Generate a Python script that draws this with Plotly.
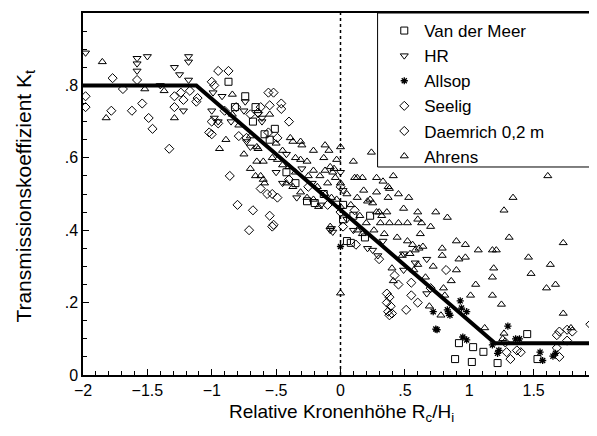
import plotly.graph_objects as go

# ---------------- data ----------------
vdm_x = [-0.87, -0.74, -0.82, -0.66, -0.59, -0.51, -0.42, -0.26, -0.20, -0.13, 0.02, 0.05,
         0.08, 0.19, 0.23, 0.92, 1.03, 1.11, 0.89, 1.02, 1.22, 1.45, 1.53,
         -0.55, -0.35, -0.68, 0.02, 0.10]
vdm_y = [0.81, 0.77, 0.74, 0.74, 0.665, 0.68, 0.56, 0.48, 0.475, 0.50, 0.43, 0.37,
         0.365, 0.38, 0.44, 0.088, 0.077, 0.064, 0.044, 0.036, 0.033, 0.113, 0.044,
         0.65, 0.53, 0.70, 0.47, 0.44]

hr_x = [-1.98, -1.58, -1.58, -1.58, -1.50, -1.29, -1.25, -1.18, -1.18, -1.18, -1.22, -0.99,
        -0.92, -0.74, -0.75, -1.00, -0.98, -0.95, -0.73, -0.64, -0.61, -0.61, -0.45, -0.34,
        -0.08, -0.07, -0.06, 0.00, 0.02, 0.21, 0.29, 0.25, 0.49, 0.67, 0.67, 0.49,
        -0.85, -0.70, -0.42, -0.30, -0.22, -0.15, 0.05, 0.10, 0.33, 0.58, -0.50, -1.40]
hr_y = [0.89, 0.875, 0.86, 0.84, 0.88, 0.85, 0.83, 0.88, 0.865, 0.815, 0.73, 0.78,
        0.77, 0.755, 0.73, 0.73, 0.71, 0.70, 0.645, 0.72, 0.71, 0.70, 0.53, 0.49,
        0.40, 0.405, 0.395, 0.56, 0.51, 0.35, 0.33, 0.345, 0.335, 0.32, 0.225, 0.29,
        0.70, 0.63, 0.61, 0.57, 0.53, 0.47, 0.43, 0.40, 0.37, 0.31, 0.56, 0.80]

allsop_x = [0.00, 0.72, 0.74, 0.75, 0.83, 0.84, 0.85, 0.93, 0.94, 0.98, 0.95, 0.98,
            1.18, 1.22, 1.23, 1.30, 1.36, 1.39, 1.55, 1.57, 1.65, 1.67]
allsop_y = [0.355, 0.175, 0.127, 0.125, 0.18, 0.17, 0.165, 0.205, 0.185, 0.175, 0.105, 0.097,
            0.083, 0.06, 0.068, 0.135, 0.10, 0.10, 0.063, 0.04, 0.052, 0.06]

seelig_x = [-0.86, -0.80, -0.68, -0.62, -0.57, -0.53, -0.49, -0.55, -0.53, -0.52, -0.71, -0.40,
            0.00, 0.00, 0.02, 0.11, 0.36, 0.38, 0.36, 0.39, 0.37, 0.40, 0.38, 0.42,
            0.55, 0.55, 0.51, 0.82, 1.28, 1.29, 1.32, 1.37, 1.40, 1.68, 1.70, 1.76,
            1.76, 1.80, 1.68, 1.70, 1.94,
            -0.25, -0.10, 0.12, 0.30, 0.45, 0.60, 0.70]
seelig_y = [0.55, 0.47, 0.455, 0.515, 0.50, 0.50, 0.49, 0.44, 0.41, 0.415, 0.40, 0.54,
            0.52, 0.45, 0.41, 0.455, 0.225, 0.215, 0.20, 0.19, 0.175, 0.17, 0.165, 0.275,
            0.255, 0.22, 0.18, 0.29, 0.09, 0.063, 0.044, 0.068, 0.063, 0.11, 0.12, 0.095,
            0.125, 0.12, 0.075, 0.05, 0.14,
            0.52, 0.47, 0.36, 0.32, 0.25, 0.20, 0.24]

daem_x = [-1.98, -1.98, -1.77, -1.69, -1.78, -1.58, -1.62, -1.54, -1.49, -1.46, -1.33, -1.29,
          -1.24, -1.22, -1.29, -1.17, -1.11, -1.12, -0.95, -0.87, -1.00, -0.98, -1.00, -0.95,
          -1.02, -1.00, -0.81, -0.79, -0.73, -0.62, -0.56, -0.52, -0.46, -0.46, -0.64, -0.55,
          -0.56, -0.49, -0.90, -0.70, -0.40]
daem_y = [0.77, 0.74, 0.82, 0.79, 0.73, 0.815, 0.73, 0.75, 0.71, 0.68, 0.625, 0.77,
          0.78, 0.76, 0.74, 0.785, 0.765, 0.755, 0.84, 0.84, 0.81, 0.80, 0.70, 0.695,
          0.67, 0.665, 0.74, 0.66, 0.655, 0.74, 0.78, 0.78, 0.75, 0.735, 0.725, 0.745,
          0.67, 0.655, 0.73, 0.72, 0.70]

ahr_x = [-1.85, -1.82, -1.52, -1.37, -1.29, -0.84, -0.84, -0.89, -0.94, -0.79, -0.66, -0.62,
         -0.59, -0.65, -0.65, -0.60, -0.55, -0.39, -0.37, -0.31, -0.30, -0.21, -0.12, -0.09,
         -0.13, 0.00, 0.10, 0.24, 0.13, 0.17, 0.28, 0.33, 0.37, 0.21, 0.25, -0.60,
         -0.64, -0.53, -0.49, -0.45, -0.40, -0.35, -0.31, -0.26, -0.21, -0.16, -0.12, -0.08,
         -0.06, -0.04, -0.42, -0.37, -0.31, -0.26, -0.21, -0.17, -0.12, -0.07, -0.03, 0.00,
         0.13, 0.23, 0.28, 0.32, 0.36, 0.15, 0.13, -0.08, 0.11, 0.41, 0.38, 0.37,
         0.28, 0.53, 0.49, 0.60, 0.74, 0.83, 0.52, 0.60, 0.63, 0.30, 0.31, 0.38,
         1.34, 1.27, 1.31, 0.90, 0.97, 1.07, 1.18, 1.21, 0.79, 0.79, 0.92, 0.97,
         1.19, 1.18, 1.18, 1.25, 1.01, 0.80, 0.81, 0.60, 0.44, 0.52, 0.56, 0.58,
         0.54, 0.61, 0.64, 0.41, 0.40, 0.17, 0.00, 0.78, 0.69, 1.12, 1.27, 1.26,
         1.61, 1.73, 1.46, 1.63, 1.48, 1.60, 1.67, 1.73, 1.79, -0.03, -0.05, 0.00,
         -0.70, -0.75, -0.70, -0.50, -0.45, -0.35, -0.25, -0.18, -0.10, 0.05, 0.08, 0.18,
         0.20, 0.26, 0.34, 0.45, 0.48, 0.57, 0.66, 0.72, 0.86, 1.05, 0.45, 0.62,
         0.70, 0.90]
ahr_y = [0.865, 0.71, 0.79, 0.785, 0.71, 0.775, 0.72, 0.65, 0.625, 0.69, 0.55, 0.55,
         0.53, 0.63, 0.59, 0.59, 0.72, 0.655, 0.645, 0.645, 0.635, 0.62, 0.635, 0.62,
         0.60, 0.63, 0.59, 0.615, 0.545, 0.545, 0.545, 0.535, 0.52, 0.48, 0.475, 0.54,
         0.625, 0.60, 0.595, 0.58, 0.575, 0.56, 0.595, 0.59, 0.565, 0.55, 0.565, 0.575,
         0.56, 0.545, 0.53, 0.52, 0.505, 0.49, 0.485, 0.465, 0.50, 0.49, 0.485, 0.465,
         0.49, 0.485, 0.45, 0.44, 0.45, 0.44, 0.40, 0.41, 0.545, 0.55, 0.515, 0.49,
         0.505, 0.49, 0.46, 0.45, 0.45, 0.435, 0.42, 0.43, 0.42, 0.45, 0.42, 0.42,
         0.49, 0.455, 0.38, 0.37, 0.36, 0.345, 0.345, 0.345, 0.35, 0.33, 0.32, 0.325,
         0.295, 0.27, 0.22, 0.195, 0.22, 0.24, 0.22, 0.305, 0.38, 0.37, 0.36, 0.345,
         0.335, 0.35, 0.355, 0.26, 0.295, 0.39, 0.226, 0.165, 0.19, 0.13, 0.115, 0.10,
         0.55, 0.365, 0.325, 0.305, 0.28, 0.24, 0.25, 0.17, 0.13, 0.595, 0.57, 0.53,
         0.66, 0.61, 0.57, 0.64, 0.62, 0.60, 0.55, 0.52, 0.53, 0.50, 0.47, 0.51,
         0.42, 0.40, 0.39, 0.42, 0.33, 0.29, 0.27, 0.30, 0.26, 0.25, 0.50, 0.39,
         0.41, 0.29]

# fitted transmission line (Van der Meer)
fit_x = [-2.0, -1.12, 1.2, 2.0]
fit_y = [0.8, 0.8, 0.088, 0.088]

x_ticks = [-2, -1.5, -1, -0.5, 0, 0.5, 1, 1.5, 2]
x_labels = ["\u22122", "\u22121.5", "\u22121", "\u2212.5", "0", ".5", "1", "1.5", "2"]
y_ticks = [0, 0.2, 0.4, 0.6, 0.8, 1]
y_labels = ["0", ".2", ".4", ".6", ".8", "1"]

series = [
    ("Van der Meer", vdm_x, vdm_y, "square-open"),
    ("HR", hr_x, hr_y, "triangle-down-open"),
    ("Allsop", allsop_x, allsop_y, "asterisk-open"),
    ("Seelig", seelig_x, seelig_y, "diamond-open"),
    ("Daemrich 0,2 m", daem_x, daem_y, "diamond-open"),
    ("Ahrens", ahr_x, ahr_y, "triangle-up-open"),
]

FONT = "Liberation Sans, Arial, Helvetica, sans-serif"

fig = go.Figure()
for name, xs, ys, sym in series:
    lw = 1.3 if sym == "asterisk-open" else 1
    sz = 6 if sym == "asterisk-open" else 7
    fig.add_trace(go.Scatter(
        x=xs, y=ys, mode="markers", name=name,
        marker=dict(symbol=sym, size=sz, color="black",
                    line=dict(color="black", width=lw)),
        cliponaxis=True,
    ))

fig.add_trace(go.Scatter(
    x=fit_x, y=fit_y, mode="lines", showlegend=False,
    line=dict(color="black", width=4),
))

# legend frame
fig.add_shape(type="rect", xref="paper", yref="paper",
              x0=0.572, x1=1.03, y0=0.5746, y1=1.0,
              fillcolor="white", line=dict(color="black", width=1), layer="above")
# dotted line at x = 0
fig.add_shape(type="line", xref="x", yref="y", x0=0, x1=0, y0=0, y1=1,
              line=dict(color="black", width=1.5, dash="dot"), layer="below")

axis_common = dict(
    showline=True, linecolor="black", linewidth=1.5, mirror=True,
    ticks="inside", ticklen=6, tickcolor="black", tickwidth=1,
    showgrid=False, zeroline=False, automargin=False,
    tickfont=dict(family=FONT, size=16, color="black"),
)

fig.update_xaxes(range=[-2, 2], tickvals=x_ticks, ticktext=x_labels,
                 minor=dict(dtick=0.1, tick0=0, ticks="inside", ticklen=4,
                            tickcolor="black", showgrid=False),
                 **axis_common)
fig.update_yaxes(range=[0, 1], tickvals=y_ticks, ticktext=y_labels,
                 minor=dict(dtick=0.05, tick0=0, ticks="inside", ticklen=4,
                            tickcolor="black", showgrid=False),
                 **axis_common)

fig.add_annotation(text="Relative Kronenh\u00f6he R<sub>c</sub>/H<sub>i</sub>",
                   xref="paper", yref="paper", x=0.502, y=-0.105,
                   xanchor="center", yanchor="middle", showarrow=False,
                   font=dict(family=FONT, size=19, color="black"))
fig.add_annotation(text="Transmissionskoeffizient K<sub>t</sub>",
                   xref="paper", yref="paper", x=-0.113, y=0.495,
                   xanchor="center", yanchor="middle", showarrow=False, textangle=-90,
                   font=dict(family=FONT, size=21, color="black"))

fig.update_layout(
    width=597, height=436,
    margin=dict(l=75, r=7, t=5, b=69),
    paper_bgcolor="white", plot_bgcolor="white",
    showlegend=True,
    legend=dict(x=0.585, y=1.0, xanchor="left", yanchor="top",
                bgcolor="rgba(0,0,0,0)", borderwidth=0,
                font=dict(family=FONT, size=17, color="black")),
)

fig.write_html("out.html")
